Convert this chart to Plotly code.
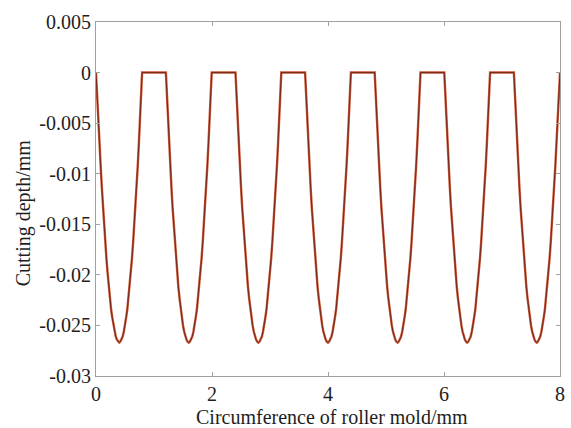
import plotly.graph_objects as go

# One cutting-groove profile (offset from groove centre, mm / depth, mm)
PROFILE_OFFSET = [-0.395, -0.38, -0.36, -0.34, -0.32, -0.30, -0.28, -0.26, -0.24, -0.22, -0.20,
                  -0.18, -0.16, -0.14, -0.12, -0.10, -0.08, -0.06, -0.04, -0.02, 0.0,
                  0.02, 0.04, 0.06, 0.08, 0.10, 0.12, 0.14, 0.16, 0.18, 0.20,
                  0.22, 0.24, 0.26, 0.28, 0.30, 0.32, 0.34, 0.36, 0.38, 0.395]
PROFILE_DEPTH = [0.0, -0.0020, -0.0045, -0.0069, -0.0092, -0.0113, -0.0133, -0.0151, -0.0168, -0.0184, -0.0198,
                 -0.0212, -0.0223, -0.0234, -0.0242, -0.0250, -0.0256, -0.0261, -0.0264, -0.0266, -0.0267,
                 -0.0266, -0.0264, -0.0261, -0.0256, -0.0250, -0.0242, -0.0234, -0.0223, -0.0212, -0.0198,
                 -0.0184, -0.0168, -0.0151, -0.0133, -0.0113, -0.0092, -0.0069, -0.0045, -0.0020, 0.0]
# Groove centres along the roller circumference (mm)
DIP_CENTERS = [0.4, 1.6, 2.8, 4.0, 5.2, 6.4, 7.6]

X_TICKS = [0, 2, 4, 6, 8]
X_TICK_TEXT = ["0", "2", "4", "6", "8"]
Y_TICKS = [0.005, 0, -0.005, -0.01, -0.015, -0.02, -0.025, -0.03]
Y_TICK_TEXT = ["0.005", "0", "-0.005", "-0.01", "-0.015", "-0.02", "-0.025", "-0.03"]
X_TITLE = "Circumference of roller mold/mm"
Y_TITLE = "Cutting depth/mm"

x, y = [], []
for c in DIP_CENTERS:
    for o, d in zip(PROFILE_OFFSET, PROFILE_DEPTH):
        x.append(round(c + o, 4))
        y.append(d)
x[0] = 0.0
x[-1] = 8.0

fig = go.Figure()
fig.add_trace(go.Scatter(x=x, y=y, mode="lines",
                         line=dict(color="#c8583a", width=2.4), hoverinfo="skip"))
fig.add_trace(go.Scatter(x=x, y=y, mode="lines",
                         line=dict(color="#6b2414", width=0.9)))

font = dict(family="Liberation Serif, Times New Roman, serif", size=20, color="#1e1e1e")
axis_common = dict(showgrid=False, zeroline=False, showline=True, linecolor="#a0a0a0",
                   linewidth=1, mirror="ticks", ticks="inside", ticklen=4,
                   tickcolor="#a0a0a0", tickfont=font)

fig.update_layout(
    width=571, height=428,
    margin=dict(l=96, r=6, t=22, b=52),
    paper_bgcolor="white", plot_bgcolor="white",
    showlegend=False,
    font=font,
    xaxis=dict(range=[0, 8], tickvals=X_TICKS, ticktext=X_TICK_TEXT, **axis_common),
    yaxis=dict(range=[-0.03, 0.005], tickvals=Y_TICKS, ticktext=Y_TICK_TEXT, **axis_common),
    annotations=[
        dict(text=X_TITLE, xref="paper", yref="paper", x=0.508, y=-0.115,
             xanchor="center", yanchor="middle", showarrow=False, font=font),
        dict(text=Y_TITLE, xref="paper", yref="paper", x=-0.157, y=0.46,
             xanchor="center", yanchor="middle", showarrow=False, font=font, textangle=-90),
    ],
)

fig.write_html("out.html")
